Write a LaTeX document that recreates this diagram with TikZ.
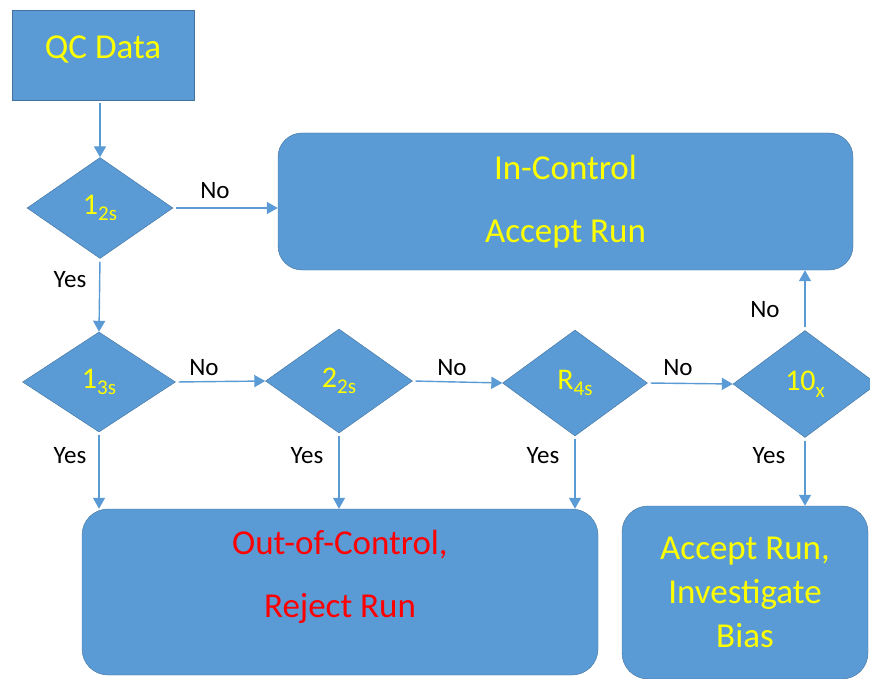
\documentclass[tikz,border=0pt]{standalone}
\usepackage{fontspec}
\setmainfont{Carlito}
\usepackage{xcolor}
\usepackage{tikz}
\usetikzlibrary{shapes.geometric}
\usetikzlibrary{arrows.meta}
\definecolor{boxblue}{HTML}{5B9BD5}
\definecolor{boxedge}{HTML}{41719C}
\definecolor{txtyellow}{HTML}{FFFF00}
\definecolor{txtred}{HTML}{FF0000}
\newcommand{\lowidx}[1]{\raisebox{-0.22em}{\fontsize{21}{24}\selectfont #1}}

\begin{document}
\begin{tikzpicture}[
	x=1pt,y=-1pt,
	font=\fontsize{25}{30}\selectfont
]
\tikzset{
    flowbox/.style = {rectangle, draw=boxedge, fill=boxblue, align=center, text=txtyellow, font=\fontsize{35}{63}\selectfont},
    decision/.style = {diamond, draw=boxedge, fill=boxblue, text=txtyellow, inner sep=0pt, font=\fontsize{30}{36}\selectfont},
    link/.style = {draw=boxblue, line width=1.4pt, shorten <=3pt, -{Triangle[length=11pt,width=12pt]}},
    answer/.style = {text=black}
}
\useasboundingbox (0,0) rectangle (870,679);
% boxes
\node[flowbox,minimum width=182,minimum height=90,text depth=16pt] (qc) at (103,55) {QC Data};
\node[flowbox,rounded corners=24,minimum width=575,minimum height=137] (ctrl) at (565.5,201.5) {In-Control\\Accept Run};
\node[flowbox,rounded corners=26,minimum width=516,minimum height=166] (bad) at (340,592) {};
\node[text=txtred,align=center,font=\fontsize{35}{63}\selectfont] (badtxt) at (340,577) {Out-of-Control,\\Reject Run};
\node[flowbox,rounded corners=26,minimum width=246,minimum height=173,font=\fontsize{35}{44}\selectfont] (bias) at (745,592.5) {Accept Run,\\Investigate\\Bias};
% rules
\node[decision,minimum width=146,minimum height=101] (r12) at (100,208) {1\lowidx{2s}};
\node[decision,minimum width=153,minimum height=100] (r13) at (99,382) {1\lowidx{3s}};
\node[decision,minimum width=147,minimum height=104] (r22) at (339,381) {2\lowidx{2s}};
\node[decision,minimum width=145,minimum height=106] (r4s) at (575,383) {R\lowidx{4s}};
\node[decision,minimum width=144,minimum height=107] (r10) at (805,384) {10\lowidx{x}};
% arrows
\draw[link] (r12.north |- qc.south) -- (r12.north);
\draw[link] (r12.east) -- (r12.east -| ctrl.west);
\draw[link] (r12.south) -- (r13.north);
\draw[link] (r13.east) -- (r22.west);
\draw[link] (r22.east) -- (r4s.west);
\draw[link] (r4s.east) -- (r10.west);
\draw[link] (r10.north) -- (r10.north |- ctrl.south);
\draw[link] (r13.south) -- (r13.south |- bad.north);
\draw[link] (r22.south) -- (r22.south |- bad.north);
\draw[link] (r4s.south) -- (r4s.south |- bad.north);
\draw[link] (r10.south) -- (r10.south |- bias.north);
% labels
\node[answer] (no12) at (215,191) {No};
\node[answer] (yes12) at (70,280) {Yes};
\node[answer] (no13) at (204,368) {No};
\node[answer] (no22) at (452,368) {No};
\node[answer] (no4s) at (678,368) {No};
\node[answer] (no10) at (765,310) {No};
\node[answer] (yes13) at (70,456) {Yes};
\node[answer] (yes22) at (307,456) {Yes};
\node[answer] (yes4s) at (543,456) {Yes};
\node[answer] (yes10) at (769,456) {Yes};
\end{tikzpicture}
\end{document}
